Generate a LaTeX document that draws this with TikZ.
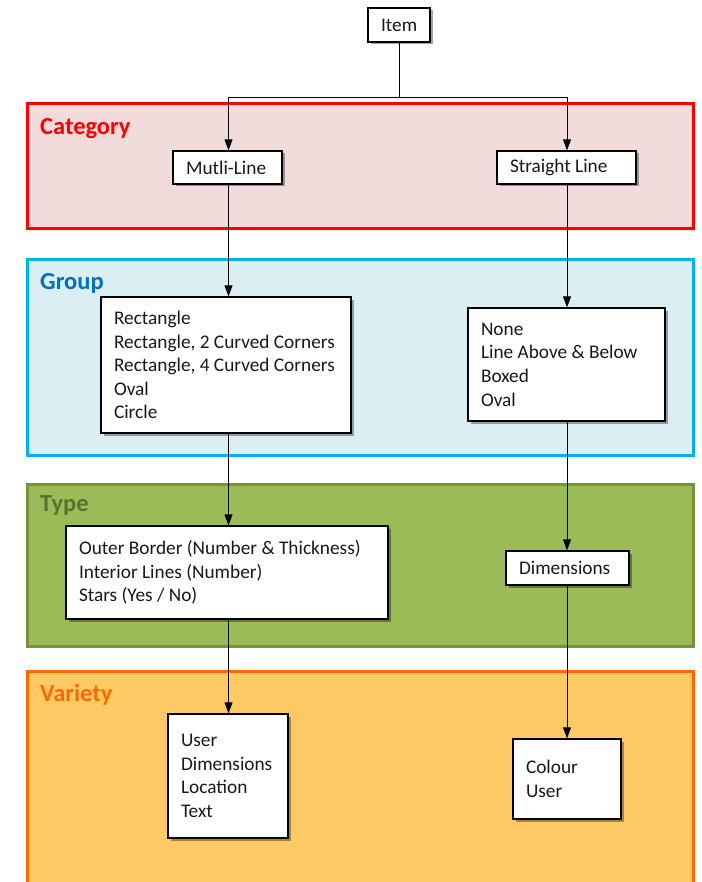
\documentclass[tikz,border=0pt]{standalone}
\usepackage{fontspec}
\setmainfont{Carlito}
\usetikzlibrary{arrows.meta,shadows}
\hyphenpenalty=10000
\exhyphenpenalty=10000
\definecolor{catline}{HTML}{FF0000}
\definecolor{catfill}{HTML}{F2DCDB}
\definecolor{grpline}{HTML}{00B0F0}
\definecolor{grpfill}{HTML}{DAEEF3}
\definecolor{grptext}{HTML}{0070C0}
\definecolor{typline}{HTML}{76923C}
\definecolor{typfill}{HTML}{9BBB59}
\definecolor{typtext}{HTML}{5A7230}
\definecolor{varline}{HTML}{FF6A00}
\definecolor{varfill}{HTML}{FFCA66}
\definecolor{vartext}{HTML}{FF6A00}
\tikzset{
  box/.style={draw=black, line width=1.3pt, fill=white, align=flush left,
    inner xsep=13pt, inner ysep=0pt, text=black!90,
    font=\fontsize{19.3}{23.6}\selectfont,
    drop shadow={shadow xshift=2.5pt, shadow yshift=-2.5pt, opacity=0.35, fill=black}},
  panel/.style={line width=3pt},
  paneltitle/.style={anchor=base west, inner sep=0pt, font=\fontsize{24.5}{29}\selectfont\bfseries},
  arr/.style={line width=0.9pt, -{Triangle[length=11pt,width=8pt]}},
  conn/.style={line width=0.9pt}
}
\begin{document}
\begin{tikzpicture}[x=1pt,y=-1pt]
\useasboundingbox (0,0) rectangle (701,882);
\fill[white] (0,0) rectangle (701,882);
% panels
\draw[panel, draw=catline, fill=catfill, drop shadow={shadow xshift=2pt, shadow yshift=-2pt, opacity=0.2}] (27,104) rectangle (693,229);
\draw[panel, draw=grpline, fill=grpfill, drop shadow={shadow xshift=2pt, shadow yshift=-2pt, opacity=0.2}] (27,260) rectangle (693,455);
\draw[panel, draw=typline, fill=typfill, drop shadow={shadow xshift=2pt, shadow yshift=-2pt, opacity=0.2}] (27,484) rectangle (693,646);
\draw[panel, draw=varline, fill=varfill] (27,671) rectangle (693,892);
\node[paneltitle, text=catline] (tcat) at (40,135) {Category};
\node[paneltitle, text=grptext] (tgrp) at (40,289.5) {Group};
\node[paneltitle, text=typtext] (ttyp) at (40,511.5) {Type};
\node[paneltitle, text=vartext] (tvar) at (40,701.5) {Variety};
% columns
\coordinate (L) at (228.5,0);
\coordinate (R) at (567,0);
% boxes
\node[box, text width=36pt, minimum height=34pt] (item) at (399,25) {Item};
\node[box, text width=83pt, minimum height=33pt] (ml) at (227.5,167.5) {Mutli-Line};
\node[box, text width=113pt, minimum height=33pt] (sl) at (566.5,167.5) {Straight Line};
\node[box, text width=224pt, minimum height=136pt] (gl) at (226,365) {Rectangle\\Rectangle, 2 Curved Corners\\Rectangle, 4 Curved Corners\\Oval\\Circle};
\node[box, text width=171pt, minimum height=113pt] (gr) at (566.5,364.5) {None\\Line Above \& Below\\Boxed\\Oval};
\node[box, text width=296pt, minimum height=93pt] (tl) at (227,572.5) {Outer Border (Number \& Thickness)\\Interior Lines (Number)\\Stars (Yes / No)};
\node[box, text width=97pt, minimum height=34pt] (td) at (567.5,568) {Dimensions};
\node[box, text width=94pt, minimum height=124pt] (vl) at (228,776) {User\\Dimensions\\Location\\Text};
\node[box, text width=82pt, minimum height=80pt] (vr) at (567,779) {Colour\\User};
% connectors
\coordinate (j) at (399,97);
\draw[conn] (item.south) -- (j);
\draw[arr] (j) -| (ml.north -| L);
\draw[arr] (j) -| (sl.north -| R);
\draw[arr] (ml.south -| L) -- (gl.north -| L);
\draw[arr] (sl.south -| R) -- (gr.north -| R);
\draw[arr] (gl.south -| L) -- (tl.north -| L);
\draw[arr] (gr.south -| R) -- (td.north -| R);
\draw[arr] (tl.south -| L) -- (vl.north -| L);
\draw[arr] (td.south -| R) -- (vr.north -| R);
\end{tikzpicture}
\end{document}
